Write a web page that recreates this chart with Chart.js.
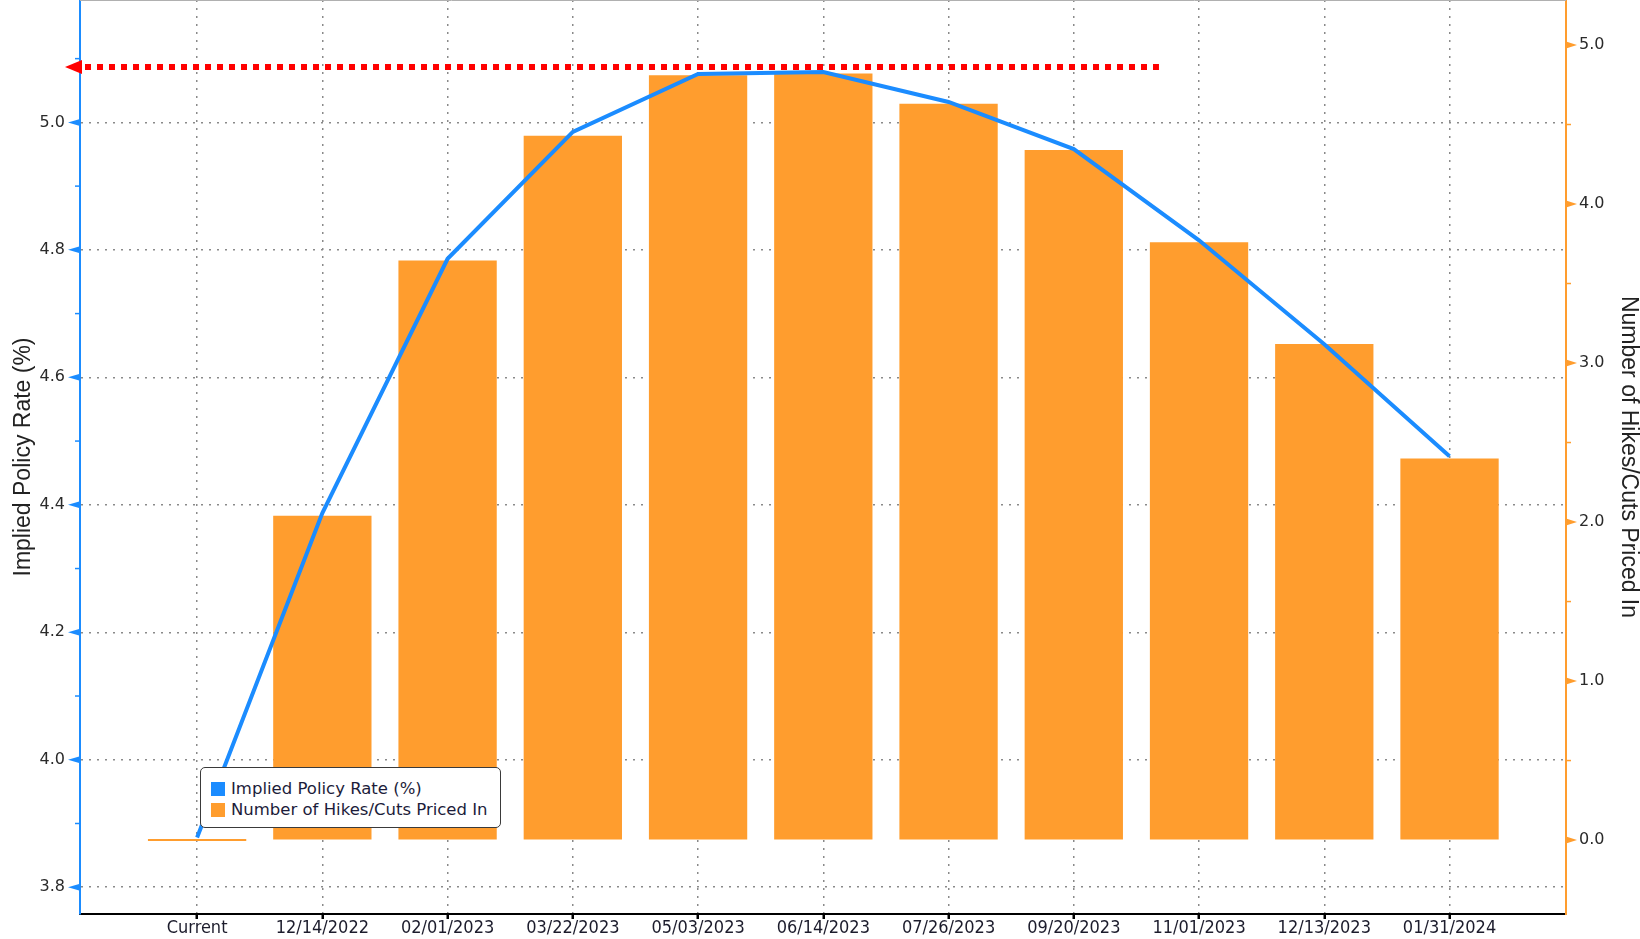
<!DOCTYPE html>
<html>
<head>
<meta charset="utf-8">
<title>Implied Policy Rate</title>
<script src="https://cdn.jsdelivr.net/npm/chart.js@4.4.0/dist/chart.umd.min.js"></script>
<style>
  html, body { margin: 0; padding: 0; background: #fff; }
  #wrap { position: relative; width: 1640px; height: 939px; }
  #legend {
    position: absolute; left: 200px; top: 767px; width: 301px; height: 61px;
    box-sizing: border-box; border: 1.5px solid #3a3a3a; border-radius: 5px;
    background: #fff; padding: 10px 0 0 10px;
    font: 16.5px "DejaVu Sans", sans-serif; color: #1c1c3a;
  }
  #legend .item { display: flex; align-items: center; height: 21px; white-space: nowrap; }
  #legend .sw { width: 14px; height: 14px; margin-right: 6px; }
</style>
</head>
<body>
<div id="wrap">
  <canvas id="chart" width="1640" height="939"></canvas>
  <div id="legend"></div>
</div>
<script>
// meeting dates (x axis)
const meetings = ['Current', '12/14/2022', '02/01/2023', '03/22/2023', '05/03/2023', '06/14/2023',
                  '07/26/2023', '09/20/2023', '11/01/2023', '12/13/2023', '01/31/2024'];
// implied policy rate, % (left axis)
const impliedRate = [3.878, 4.387, 4.786, 4.985, 5.076, 5.079, 5.032, 4.958, 4.815, 4.652, 4.476];
// number of hikes/cuts priced in (right axis)
const hikesPriced = [0, 2.04, 3.645, 4.43, 4.81, 4.82, 4.63, 4.34, 3.76, 3.12, 2.40];
// axis ticks
const rateTicks = [3.8, 4.0, 4.2, 4.4, 4.6, 4.8, 5.0];
const hikeTicks = [0, 1, 2, 3, 4, 5];
// red dotted marker: level on the rate axis and where it stops (in meeting units)
const peakLevel = 5.087;
const peakMarkerEnd = 7.68;

const BLUE = '#1b8cff';
const ORANGE = '#ff9d2e';
const RED = '#ff0000';

// arrows / minor ticks on the two value axes, top border, red peak marker
const decorations = {
  id: 'decorations',
  afterDraw(chart) {
    const { ctx, chartArea, scales } = chart;
    const yl = scales.y, yr = scales.yRight, x = scales.x;
    ctx.save();

    // top border
    ctx.strokeStyle = '#b0b0b0';
    ctx.lineWidth = 1;
    ctx.beginPath();
    ctx.moveTo(chartArea.left, chartArea.top + 0.5);
    ctx.lineTo(chartArea.right, chartArea.top + 0.5);
    ctx.stroke();

    const tri = (x0, y, len, color) => {
      ctx.fillStyle = color;
      ctx.beginPath();
      ctx.moveTo(x0 + len, y);
      ctx.lineTo(x0, y - 3.5);
      ctx.lineTo(x0, y + 3.5);
      ctx.closePath();
      ctx.fill();
    };
    const minor = (x0, y, len, color) => {
      ctx.strokeStyle = color;
      ctx.lineWidth = 1.5;
      ctx.beginPath();
      ctx.moveTo(x0, y);
      ctx.lineTo(x0 + len, y);
      ctx.stroke();
    };

    // left axis
    rateTicks.forEach(v => {
      tri(chartArea.left, yl.getPixelForValue(v), -12, BLUE);
      const m = v + 0.1;
      if (m <= yl.max) minor(chartArea.left, yl.getPixelForValue(m), -5, BLUE);
    });
    // right axis
    hikeTicks.forEach(v => {
      tri(chartArea.right, yr.getPixelForValue(v), 11, ORANGE);
      const m = v + 0.5;
      if (m <= yr.max) minor(chartArea.right, yr.getPixelForValue(m), 5, ORANGE);
    });

    // red dotted peak marker with arrow head
    const py = yl.getPixelForValue(peakLevel);
    const xEnd = x.getPixelForValue(peakMarkerEnd);
    ctx.strokeStyle = RED;
    ctx.lineWidth = 6;
    ctx.setLineDash([6, 6]);
    ctx.beginPath();
    ctx.moveTo(chartArea.left + 5, py);
    ctx.lineTo(xEnd, py);
    ctx.stroke();
    ctx.setLineDash([]);
    ctx.fillStyle = RED;
    ctx.beginPath();
    ctx.moveTo(chartArea.left - 15, py);
    ctx.lineTo(chartArea.left + 2, py - 7);
    ctx.lineTo(chartArea.left + 2, py + 7);
    ctx.closePath();
    ctx.fill();

    ctx.restore();
  }
};

const gridColor = '#8a8a8a';

// fixed axis sizes so the plot area sits where it does in the original
const fixVertical = w => s => { s.width = w; s.paddingTop = 0; s.paddingBottom = 0; };

const chart = new Chart(document.getElementById('chart'), {
  data: {
    datasets: [
      {
        type: 'line',
        label: 'Implied Policy Rate (%)',
        data: impliedRate.map((v, i) => ({ x: i, y: v })),
        yAxisID: 'y',
        borderColor: BLUE,
        backgroundColor: BLUE,
        borderWidth: 4,
        pointRadius: 0,
        tension: 0,
        order: 0
      },
      {
        type: 'bar',
        label: 'Number of Hikes/Cuts Priced In',
        data: hikesPriced.map((v, i) => ({ x: i, y: v })),
        yAxisID: 'yRight',
        backgroundColor: ORANGE,
        categoryPercentage: 1,
        barPercentage: 0.785,
        minBarLength: 2,
        order: 1
      }
    ]
  },
  options: {
    responsive: false,
    animation: false,
    devicePixelRatio: 1,
    layout: { padding: 0 },
    plugins: { legend: { display: false }, tooltip: { enabled: false } },
    scales: {
      x: {
        type: 'linear',
        position: 'bottom',
        offset: false,
        min: -0.935,
        max: 10.93,
        afterBuildTicks: s => { s.ticks = meetings.map((m, i) => ({ value: i })); },
        afterFit: s => { s.height = 25; s.paddingLeft = 0; s.paddingRight = 0; },
        ticks: {
          autoSkip: false, maxRotation: 0, padding: 0,
          callback: v => meetings[v],
          font: { family: 'DejaVu Sans Condensed', size: 18, lineHeight: 1 },
          color: '#1c1c2c'
        },
        grid: {
          offset: false,
          color: gridColor, lineWidth: 1.5,
          drawTicks: true, tickLength: 5, tickWidth: 2.5, tickColor: '#000', tickBorderDash: []
        },
        border: { display: true, color: '#000', width: 2, dash: [2, 6] }
      },
      y: {
        type: 'linear',
        position: 'left',
        min: 3.758,
        max: 5.192,
        afterBuildTicks: s => { s.ticks = rateTicks.map(v => ({ value: v })); },
        afterFit: fixVertical(80),
        ticks: {
          padding: 15,
          callback: v => v.toFixed(1),
          font: { family: 'DejaVu Sans', size: 16 },
          color: '#2a2a2a'
        },
        grid: { color: gridColor, lineWidth: 1.5, drawTicks: false },
        border: { display: true, color: BLUE, width: 2, dash: [2, 6] },
        title: {
          display: true, text: 'Implied Policy Rate (%)',
          font: { family: 'Liberation Sans', size: 23, lineHeight: 1 },
          color: '#222', padding: { top: 12, bottom: 0 }
        }
      },
      yRight: {
        type: 'linear',
        position: 'right',
        min: -0.465,
        max: 5.283,
        afterBuildTicks: s => { s.ticks = hikeTicks.map(v => ({ value: v })); },
        afterFit: fixVertical(74),
        ticks: {
          padding: 13,
          callback: v => v.toFixed(1),
          font: { family: 'DejaVu Sans', size: 16 },
          color: '#2a2a2a'
        },
        grid: { drawOnChartArea: false, drawTicks: false },
        border: { display: true, color: ORANGE, width: 2 },
        title: {
          display: true, text: 'Number of Hikes/Cuts Priced In',
          font: { family: 'Liberation Sans', size: 23, lineHeight: 1 },
          color: '#222', padding: { top: 0, bottom: 0 }
        }
      }
    }
  },
  plugins: [decorations]
});

// legend box drawn inside the plot
const legend = document.getElementById('legend');
chart.data.datasets.forEach(ds => {
  const item = document.createElement('div');
  item.className = 'item';
  const sw = document.createElement('span');
  sw.className = 'sw';
  sw.style.background = ds.type === 'line' ? ds.borderColor : ds.backgroundColor;
  const label = document.createElement('span');
  label.textContent = ds.label;
  item.appendChild(sw);
  item.appendChild(label);
  legend.appendChild(item);
});
</script>
</body>
</html>
